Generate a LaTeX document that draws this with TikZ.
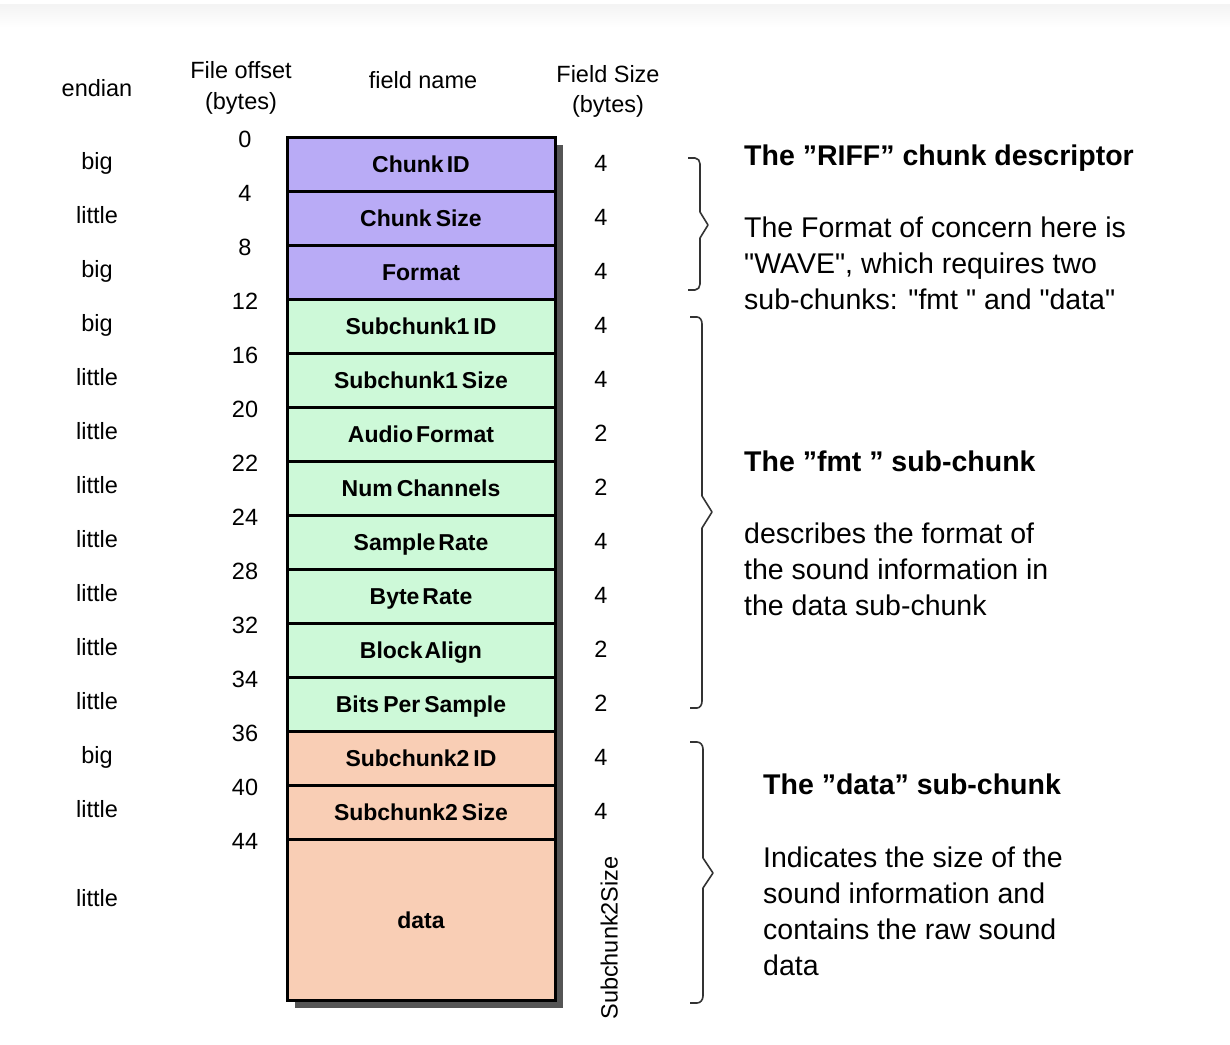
\documentclass[tikz,border=0pt]{standalone}
\usepackage{fontspec}
\setmainfont{Liberation Sans}[Ligatures=TeXOff]
\definecolor{riffc}{HTML}{B9ABF6}
\definecolor{fmtc}{HTML}{CDF9D8}
\definecolor{datac}{HTML}{F9CEB5}
\definecolor{shadowc}{HTML}{555555}
\definecolor{bracec}{HTML}{333333}
\begin{document}
\begin{tikzpicture}[x=1pt,y=-1pt,
  field/.style={draw=black, line width=3pt, minimum width=268pt, minimum height=54pt,
    inner sep=0pt, outer sep=0pt, text height=17pt, text depth=0pt,
    font=\fontsize{23}{26}\selectfont\bfseries},
  lbl/.style={inner sep=0pt, text height=17pt, text depth=0pt, font=\fontsize{23.5}{28}\selectfont},
  desc/.style={inner sep=0pt, anchor=base west, font=\fontsize{28.5}{36}\selectfont},
  desct/.style={desc, font=\fontsize{28.5}{36}\selectfont\bfseries},
  bracepath/.style={draw=bracec, line width=1.6pt, line join=round}
]
\useasboundingbox (0,0) rectangle (1230,1044);
\shade[top color=gray!9, bottom color=white] (0,4) rectangle (1230,28);

% headers
\node[lbl] (hend) at (97,88) {endian};
\node[lbl] (hoff1) at (241,70) {File offset};
\node[lbl] (hoff2) at (241,101) {(bytes)};
\node[lbl] (hname) at (423,80) {field name};
\node[lbl] (hsz1) at (608,74) {Field Size};
\node[lbl] (hsz2) at (608,104) {(bytes)};

% shadow
\fill[shadowc] (295,145) rectangle (563,1008);

% fields
\foreach \nm/\fc/\en/\sz [count=\i from 0] in {
  Chunk\kern3pt ID/riffc/big/4,
  Chunk\kern4pt Size/riffc/little/4,
  Format/riffc/big/4,
  Subchunk1\kern4pt ID/fmtc/big/4,
  Subchunk1\kern4pt Size/fmtc/little/4,
  Audio\kern3pt Format/fmtc/little/2,
  Num\kern4pt Channels/fmtc/little/2,
  Sample\kern3pt Rate/fmtc/little/4,
  Byte\kern3pt Rate/fmtc/little/4,
  Block\kern2pt Align/fmtc/little/2,
  Bits\kern4pt Per\kern4pt Sample/fmtc/little/2,
  Subchunk2\kern4pt ID/datac/big/4,
  Subchunk2\kern4pt Size/datac/little/4}{
  \pgfmathsetmacro{\yc}{164+54*\i}
  \node[field, fill=\fc] (f\i) at (421,\yc) {\nm};
  \node[lbl] (e\i) at (97,\yc-3) {\en};
  \node[lbl] (s\i) at (601,\yc-1) {\sz};
}
\node[field, fill=datac, minimum height=161pt] (fdata) at (421,919.5) {data};
\node[lbl] (edata) at (97,898) {little};
\node[lbl, rotate=90] (sdata) at (609,938) {Subchunk2Size};

% offsets
\foreach \o [count=\i from 0] in {0,4,8,12,16,20,22,24,28,32,34,36,40,44}{
  \pgfmathsetmacro{\yo}{139+54*\i}
  \node[lbl] (o\i) at (245,\yo) {\o};
}

% braces
\draw[bracepath] (688,158) -- (695,158) to[out=0,in=90] (700,164) -- (700,212) -- (708,225) -- (700,238) -- (700,284) to[out=-90,in=0] (695,290) -- (688,290);
\draw[bracepath] (690,317) -- (697,317) to[out=0,in=90] (702,324) -- (702,496) -- (712,512) -- (702,528) -- (702,701) to[out=-90,in=0] (697,708) -- (690,708);
\draw[bracepath] (690,742) -- (697,742) to[out=0,in=90] (703,749) -- (703,858) -- (713,873) -- (703,888) -- (703,996) to[out=-90,in=0] (697,1003) -- (690,1003);

% descriptions
\node[desct] (t1) at (744,165) {The ”RIFF” chunk descriptor};
\node[desc] (t1a) at (744,237) {The Format of concern here is};
\node[desc] (t1b) at (744,273) {"WAVE", which requires two};
\node[desc] (t1c) at (744,309) {sub-chunks: "fmt " and "data"};

\node[desct] (t2) at (744,471) {The ”fmt ” sub-chunk};
\node[desc] (t2a) at (744,543) {describes the format of};
\node[desc] (t2b) at (744,579) {the sound information in};
\node[desc] (t2c) at (744,615) {the data sub-chunk};

\node[desct] (t3) at (763,794) {The ”data” sub-chunk};
\node[desc] (t3a) at (763,867) {Indicates the size of the};
\node[desc] (t3b) at (763,903) {sound information and};
\node[desc] (t3c) at (763,939) {contains the raw sound};
\node[desc] (t3d) at (763,975) {data};
\end{tikzpicture}
\end{document}
